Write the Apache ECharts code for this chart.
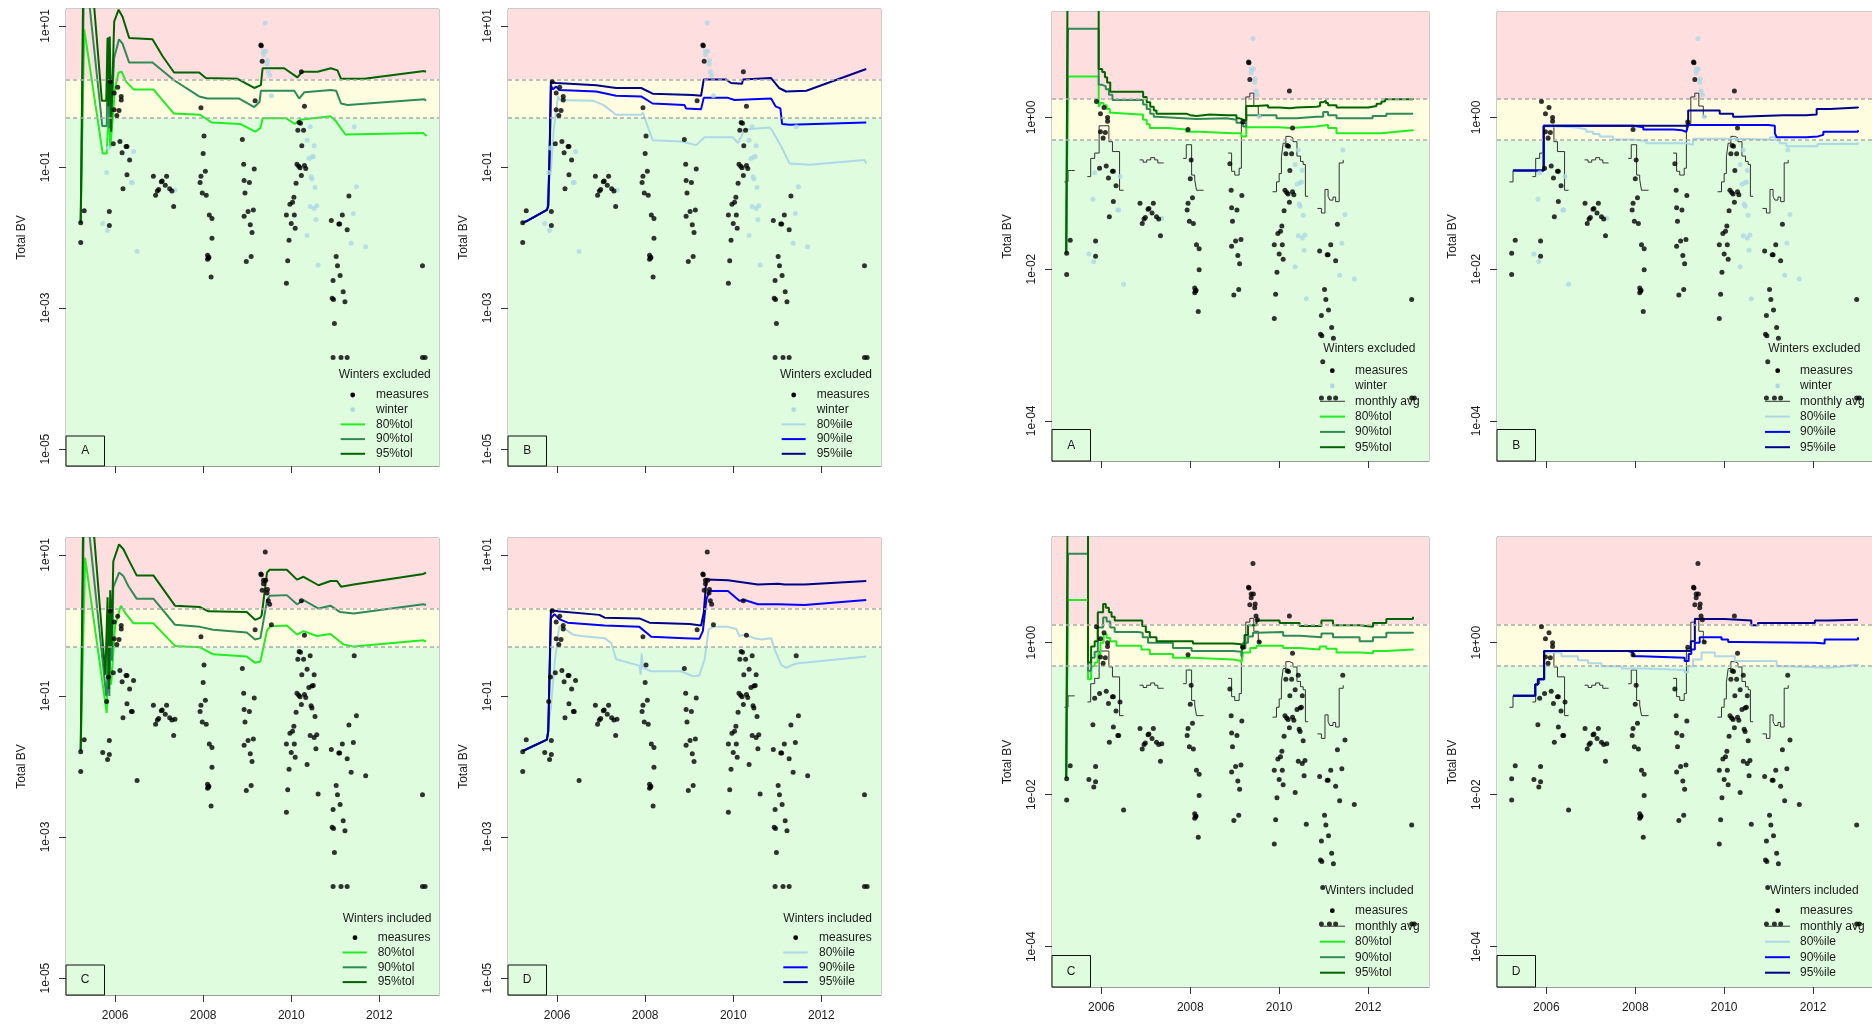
<!DOCTYPE html>
<html>
<head>
<meta charset="utf-8">
<script src="https://cdn.jsdelivr.net/npm/echarts@6/dist/echarts.min.js"></script>
<style>
html,body{margin:0;padding:0;background:#fff;}
#chart{width:1872px;height:1025px;}
</style>
</head>
<body>
<div id="chart"></div>
<script>
// all values are log10(Total BV), x is decimal year
var yearTicks = [2006, 2008, 2010, 2012];
var leftTicks = [-5, -3, -1, 1];
var rightTicks = [-4, -2, 0];
var lowLimit = -0.301;   // 0.5
var highLimit = 0.243;   // 1.75

// measures outside winter
var measures = [
  [2005.22,-1.79],[2005.30,-1.62],[2005.22,-2.07],[2005.87,-1.63],[2005.87,-1.83],[2005.89,0.21],
  [2005.98,0.05],[2006.06,0.13],[2006.14,0.0],[2006.14,-0.05],[2005.98,-0.19],[2006.09,-0.20],[2006.04,-0.27],
  [2005.96,-0.67],[2006.11,-0.64],[2006.16,-0.80],[2006.25,-0.71],[2006.27,-0.71],[2006.33,-0.90],[2006.27,-1.11],[2006.18,-1.31],
  [2006.87,-1.13],[2006.92,-1.40],[2006.96,-1.34],[2006.99,-1.32],[2007.05,-1.21],[2007.07,-1.20],[2007.14,-1.26],
  [2007.17,-1.13],[2007.24,-1.31],[2007.29,-1.34],[2007.33,-1.56],
  [2007.95,-0.16],[2008.02,-0.56],[2008.00,-0.81],[2008.05,-1.06],[2007.93,-1.22],[2007.95,-1.13],[2007.98,-1.37],
  [2008.07,-1.40],[2008.14,-1.68],[2008.20,-1.73],[2008.20,-2.01],[2008.10,-2.25],[2008.12,-2.29],[2008.13,-2.28],
  [2008.10,-2.31],[2008.18,-2.56],
  [2008.89,-0.61],[2008.92,-0.96],[2008.93,-1.19],[2009.05,-1.22],[2009.16,-1.03],[2008.95,-1.37],[2009.02,-1.63],
  [2009.14,-1.61],[2008.93,-1.70],[2009.07,-1.82],[2009.11,-1.93],[2009.09,-2.27],[2008.98,-2.34],[2009.18,-0.06],
  [2009.31,0.73],[2009.32,0.72],[2009.34,0.50],
  [2010.23,0.35],[2010.30,-0.14],[2010.18,-0.37],[2010.21,-0.38],[2010.15,-0.48],[2010.28,-0.48],[2010.24,-0.70],
  [2010.13,-0.96],[2010.17,-0.99],[2010.20,-1.01],[2010.30,-0.98],[2010.33,-1.02],[2010.23,-1.12],[2010.11,-1.23],
  [2010.06,-1.43],[2010.03,-1.50],[2009.97,-1.53],[2009.89,-1.68],[2010.07,-1.68],[2010.00,-1.80],[2010.09,-1.87],
  [2009.95,-2.04],[2009.92,-2.33],[2009.89,-2.65],
  [2010.91,-1.76],[2011.08,-1.81],[2011.10,-1.81],[2011.16,-1.68],[2011.27,-1.89],[2011.31,-1.41],[2011.02,-2.27],
  [2011.05,-2.40],[2011.11,-2.54],[2010.95,-2.61],[2010.93,-2.86],[2010.96,-2.88],[2011.18,-2.77],[2011.22,-2.91],
  [2010.98,-3.22],[2010.95,-3.70],[2011.13,-3.70],[2011.27,-3.70],
  [2012.98,-2.40],[2012.98,-3.70],[2013.04,-3.70]
];

// winter measures
var winter = [
  [2005.72,-1.80],[2005.81,-1.08],[2005.83,-1.90],[2005.85,-0.73],[2006.50,-2.20],[2006.42,-0.78],[2006.37,-1.22],[2006.39,-1.22],
  [2007.36,-1.33],
  [2009.41,1.04],[2009.37,0.64],[2009.42,0.64],[2009.37,0.59],[2009.46,0.51],[2009.45,0.46],[2009.48,0.35],[2009.51,0.30],[2009.55,0.01],
  [2010.43,-0.43],[2010.36,-0.62],[2010.52,-0.70],[2010.40,-0.88],[2010.47,-0.86],[2010.50,-0.85],[2010.45,-1.14],[2010.47,-1.17],
  [2010.54,-1.29],[2010.43,-1.56],[2010.52,-1.59],[2010.58,-1.55],[2010.56,-1.75],[2010.36,-1.97],[2010.61,-2.39],
  [2011.43,-0.43],[2011.48,-1.28],[2011.41,-1.66],[2011.36,-2.08],[2011.69,-2.13]
];

// left A: tolerance, winters excluded
var tolA80 = [[2005.22,-1.79],[2005.30,0.95],[2005.72,-0.81],[2005.81,-0.81],[2005.86,-0.14],[2005.89,-0.73],[2005.91,-0.60],
  [2006.0,0.12],[2006.08,0.34],[2006.15,0.35],[2006.25,0.21],[2006.42,0.10],[2006.87,0.10],[2007.33,-0.24],[2007.93,-0.26],
  [2008.20,-0.37],[2008.84,-0.39],[2009.18,-0.50],[2009.30,-0.45],[2009.35,-0.31],[2009.89,-0.31],[2010.08,-0.39],[2010.20,-0.33],
  [2010.89,-0.28],[2011.00,-0.34],[2011.23,-0.54],[2013.00,-0.52],[2013.07,-0.56]];
var tolA90 = [[2005.22,-1.79],[2005.30,2.0],[2005.71,-0.42],[2005.81,-0.42],[2005.84,0.84],[2005.87,-0.45],[2005.90,0.30],
  [2005.93,-0.10],[2005.98,0.55],[2006.09,0.81],[2006.17,0.75],[2006.32,0.48],[2006.85,0.48],[2007.34,0.23],[2007.91,0.0],
  [2008.10,-0.03],[2008.82,-0.03],[2009.16,-0.15],[2009.28,-0.08],[2009.31,0.08],[2010.07,0.08],[2010.18,-0.03],[2010.30,0.06],
  [2010.90,0.09],[2011.02,0.08],[2011.13,-0.10],[2011.28,-0.12],[2013.02,-0.04],[2013.06,-0.06]];
var tolA95 = [[2005.22,-1.79],[2005.30,3.0],[2005.70,-0.06],[2005.80,-0.06],[2005.83,0.83],[2005.85,-0.14],[2005.88,0.85],
  [2005.91,-0.50],[2005.98,1.06],[2006.08,1.23],[2006.17,1.13],[2006.32,0.83],[2006.85,0.81],[2007.08,0.57],[2007.34,0.34],
  [2007.91,0.34],[2008.06,0.26],[2008.78,0.25],[2009.16,0.12],[2009.31,0.16],[2009.35,0.40],[2009.84,0.40],[2010.14,0.27],
  [2010.25,0.35],[2010.60,0.35],[2010.90,0.40],[2011.05,0.37],[2011.13,0.25],[2011.66,0.25],[2013.02,0.36],[2013.06,0.35]];

// left B: percentiles, winters excluded
var pctB80 = [[2005.22,-1.79],[2005.30,-1.77],[2005.77,-1.61],[2005.80,-1.30],[2005.86,-1.06],[2005.92,-0.50],[2006.02,0.0],
  [2006.07,-0.05],[2006.81,-0.06],[2007.05,-0.12],[2007.34,-0.26],[2007.91,-0.26],[2007.95,-0.23],[2008.02,-0.36],[2008.17,-0.62],
  [2008.82,-0.64],[2009.16,-0.69],[2009.35,-0.58],[2009.99,-0.58],[2010.11,-0.66],[2010.26,-0.47],[2010.83,-0.44],[2010.90,-0.50],
  [2011.09,-0.71],[2011.28,-0.95],[2011.73,-0.97],[2012.98,-0.90],[2013.02,-0.95]];
var pctB90 = [[2005.22,-1.79],[2005.30,-1.77],[2005.77,-1.61],[2005.80,-1.55],[2005.84,-0.60],[2005.86,0.16],[2005.90,0.10],
  [2005.98,0.14],[2006.05,0.09],[2006.89,0.07],[2007.34,0.01],[2007.91,0.0],[2008.17,-0.10],[2008.89,-0.12],[2008.93,-0.17],
  [2009.27,-0.18],[2009.33,-0.02],[2009.88,-0.02],[2010.03,-0.05],[2010.86,-0.03],[2010.96,-0.14],[2011.07,-0.17],[2011.11,-0.39],
  [2011.28,-0.40],[2013.02,-0.37]];
var pctB95 = [[2005.22,-1.79],[2005.30,-1.77],[2005.77,-1.61],[2005.80,-1.55],[2005.84,-0.50],[2005.86,0.20],[2005.98,0.19],
  [2006.89,0.16],[2007.34,0.12],[2007.91,0.12],[2008.17,0.04],[2009.08,0.02],[2009.27,0.01],[2009.33,0.24],[2009.84,0.24],
  [2009.95,0.19],[2010.20,0.18],[2010.22,0.24],[2010.26,0.23],[2010.86,0.26],[2011.04,0.12],[2011.20,0.07],[2011.66,0.08],[2013.02,0.39]];

// left C: tolerance, winters included
var tolC80 = [[2005.22,-1.78],[2005.32,0.96],[2005.81,-1.24],[2005.85,-0.20],[2005.91,-0.84],[2006.0,-0.01],[2006.13,0.28],
  [2006.23,0.18],[2006.42,0.03],[2006.87,0.03],[2007.36,-0.29],[2007.93,-0.31],[2008.23,-0.41],[2008.99,-0.44],[2009.18,-0.53],
  [2009.30,-0.51],[2009.45,-0.07],[2009.53,-0.01],[2009.90,0.0],[2010.13,-0.13],[2010.28,-0.08],[2010.58,-0.15],[2010.89,-0.12],
  [2011.19,-0.27],[2011.42,-0.30],[2013.0,-0.21],[2013.06,-0.23]];
var tolC90 = [[2005.22,-1.78],[2005.30,2.0],[2005.80,-1.0],[2005.82,-0.95],[2005.84,0.20],[2005.87,-1.0],[2005.90,0.25],
  [2005.93,-0.50],[2005.96,0.54],[2006.09,0.75],[2006.19,0.70],[2006.30,0.56],[2006.49,0.38],[2006.87,0.38],[2007.36,0.01],
  [2007.93,-0.02],[2008.23,-0.06],[2008.99,-0.10],[2009.18,-0.20],[2009.30,-0.18],[2009.45,0.35],[2009.51,0.42],[2009.90,0.43],
  [2010.13,0.30],[2010.28,0.36],[2010.62,0.24],[2010.89,0.28],[2011.11,0.19],[2011.42,0.17],[2013.0,0.30],[2013.06,0.29]];
var tolC95 = [[2005.22,-1.78],[2005.30,3.0],[2005.78,-0.70],[2005.81,-0.70],[2005.83,0.40],[2005.86,-0.90],[2005.89,0.50],
  [2005.92,-0.30],[2005.96,0.91],[2006.09,1.15],[2006.19,1.08],[2006.30,0.94],[2006.49,0.71],[2006.87,0.71],[2007.36,0.28],
  [2007.93,0.26],[2008.12,0.20],[2008.99,0.19],[2009.18,0.08],[2009.30,0.11],[2009.33,0.15],[2009.45,0.75],[2009.51,0.79],
  [2009.90,0.79],[2010.13,0.65],[2010.28,0.69],[2010.62,0.57],[2010.89,0.63],[2011.04,0.63],[2011.13,0.55],[2011.42,0.58],
  [2013.0,0.73],[2013.06,0.75]];

// left D: percentiles, winters included
var pctD80 = [[2005.22,-1.78],[2005.77,-1.62],[2005.80,-1.40],[2005.86,-1.17],[2005.95,-0.50],[2006.05,-0.01],[2006.12,-0.02],
  [2006.36,-0.13],[2006.55,-0.15],[2007.08,-0.18],[2007.23,-0.25],[2007.34,-0.48],[2007.87,-0.57],[2007.90,-0.70],[2007.92,-0.40],
  [2007.95,-0.60],[2008.14,-0.65],[2008.82,-0.65],[2009.08,-0.72],[2009.23,-0.71],[2009.35,-0.48],[2009.44,-0.06],[2009.54,-0.02],
  [2009.88,-0.02],[2010.07,-0.05],[2010.14,-0.15],[2010.26,-0.13],[2010.48,-0.18],[2010.64,-0.20],[2010.86,-0.18],[2010.94,-0.34],
  [2011.09,-0.56],[2011.20,-0.60],[2011.43,-0.54],[2013.02,-0.44]];
var pctD90 = [[2005.22,-1.78],[2005.77,-1.62],[2005.80,-1.50],[2005.86,0.10],[2005.94,0.16],[2006.05,0.09],[2006.24,0.04],
  [2007.08,0.0],[2007.87,-0.02],[2008.14,-0.16],[2008.89,-0.18],[2009.23,-0.19],[2009.31,-0.08],[2009.39,0.37],[2009.46,0.49],
  [2009.88,0.49],[2010.14,0.35],[2010.26,0.36],[2010.56,0.30],[2011.02,0.30],[2011.62,0.29],[2013.02,0.36]];
var pctD95 = [[2005.22,-1.78],[2005.77,-1.62],[2005.80,-1.50],[2005.86,0.22],[2006.02,0.20],[2006.96,0.15],[2007.08,0.11],
  [2007.87,0.10],[2008.10,0.04],[2009.01,0.02],[2009.27,0.0],[2009.33,0.18],[2009.39,0.65],[2009.88,0.64],[2010.56,0.58],
  [2011.02,0.59],[2011.17,0.58],[2011.62,0.58],[2013.02,0.63]];

// right panels: monthly steps
var tolRA80 = [[2005.21,-1.79],[2005.25,0.54],[2005.94,0.14],[2005.98,0.19],[2006.05,0.16],[2006.12,0.11],[2006.19,0.06],
  [2006.25,0.04],[2006.86,0.04],[2006.94,-0.03],[2007.02,-0.09],[2007.09,-0.14],[2007.50,-0.16],[2007.91,-0.19],[2008.21,-0.21],
  [2008.96,-0.21],[2009.15,-0.25],[2009.26,-0.13],[2009.64,-0.13],[2010.0,-0.14],[2010.24,-0.12],[2010.84,-0.11],[2010.95,-0.10],
  [2011.10,-0.14],[2011.29,-0.21],[2011.89,-0.21],[2012.30,-0.19],[2012.64,-0.17],[2013.01,-0.18]];
var tolRA90 = [[2005.21,-1.79],[2005.25,1.17],[2005.94,0.43],[2006.02,0.41],[2006.10,0.37],[2006.17,0.30],[2006.25,0.23],
  [2006.86,0.23],[2006.94,0.17],[2007.02,0.11],[2007.10,0.05],[2007.18,0.01],[2007.24,-0.01],[2007.84,-0.02],[2008.14,-0.01],
  [2008.81,-0.03],[2009.04,-0.07],[2009.19,-0.12],[2009.26,0.03],[2009.94,-0.01],[2010.39,0.01],[2010.84,0.01],[2010.99,0.07],
  [2011.10,0.03],[2011.29,-0.01],[2011.89,-0.01],[2012.10,0.02],[2012.41,0.05],[2013.01,0.05]];
var tolRA95 = [[2005.21,-1.79],[2005.25,3.0],[2005.94,0.64],[2006.02,0.60],[2006.08,0.53],[2006.13,0.46],[2006.20,0.34],
  [2006.86,0.34],[2006.94,0.27],[2007.02,0.20],[2007.10,0.14],[2007.18,0.09],[2007.24,0.05],[2007.91,0.03],[2008.0,0.02],
  [2008.14,0.04],[2008.44,0.03],[2008.81,0.03],[2009.04,-0.01],[2009.10,-0.03],[2009.19,-0.04],[2009.26,0.15],[2009.49,0.16],
  [2009.75,0.13],[2010.01,0.12],[2010.24,0.13],[2010.39,0.14],[2010.84,0.15],[2010.92,0.20],[2010.99,0.22],[2011.05,0.19],
  [2011.10,0.16],[2011.29,0.13],[2011.89,0.13],[2012.0,0.15],[2012.19,0.18],[2012.30,0.21],[2012.38,0.24],[2013.01,0.25]];

var pctRB80 = [[2005.25,-0.70],[2005.94,-0.12],[2006.30,-0.13],[2006.60,-0.14],[2006.75,-0.16],[2006.90,-0.19],[2007.05,-0.22],
  [2007.20,-0.25],[2007.50,-0.29],[2007.95,-0.31],[2008.25,-0.34],[2009.15,-0.36],[2009.30,-0.28],[2010.05,-0.28],[2010.20,-0.29],
  [2011.03,-0.26],[2011.15,-0.30],[2011.25,-0.34],[2011.40,-0.38],[2011.85,-0.38],[2012.10,-0.35],[2013.01,-0.33]];
var pctRB90 = [[2005.25,-0.70],[2005.94,-0.11],[2007.95,-0.13],[2008.18,-0.16],[2008.85,-0.17],[2009.05,-0.19],[2009.15,-0.20],
  [2009.19,-0.10],[2010.99,-0.11],[2011.14,-0.21],[2011.18,-0.26],[2011.85,-0.25],[2012.11,-0.23],[2012.23,-0.19],[2013.01,-0.17]];
var pctRB95 = [[2005.25,-0.70],[2005.94,-0.11],[2009.19,0.09],[2009.75,0.09],[2009.90,0.05],[2010.20,0.01],[2010.35,0.03],
  [2011.33,0.03],[2011.85,0.04],[2012.08,0.11],[2012.38,0.13],[2013.01,0.14]];

var tolRC80 = [[2005.21,-1.78],[2005.25,0.56],[2005.70,-0.48],[2005.77,-0.31],[2005.85,-0.26],[2005.92,-0.15],[2005.98,0.0],
  [2006.05,0.11],[2006.12,0.06],[2006.20,0.02],[2006.34,-0.04],[2006.79,-0.04],[2006.90,-0.09],[2007.09,-0.15],[2007.61,-0.20],
  [2008.03,-0.22],[2008.96,-0.24],[2009.15,-0.27],[2009.19,-0.13],[2009.35,-0.07],[2009.49,-0.04],[2010.09,-0.07],[2010.46,-0.09],
  [2010.91,-0.05],[2011.06,-0.08],[2011.29,-0.13],[2011.81,-0.14],[2012.11,-0.11],[2012.41,-0.09],[2013.01,-0.08]];
var tolRC90 = [[2005.21,-1.78],[2005.25,1.17],[2005.70,-0.37],[2005.77,-0.20],[2005.85,-0.12],[2005.92,0.20],[2006.04,0.33],
  [2006.12,0.28],[2006.20,0.20],[2006.30,0.14],[2006.83,0.13],[2006.93,0.07],[2007.05,0.0],[2007.61,-0.07],[2008.03,-0.11],
  [2008.96,-0.12],[2009.15,-0.18],[2009.19,0.0],[2009.30,0.08],[2009.41,0.13],[2009.49,0.14],[2010.09,0.09],[2010.46,0.07],
  [2010.95,0.12],[2011.21,0.07],[2011.81,0.02],[2012.11,0.07],[2012.41,0.13],[2013.01,0.14]];
var tolRC95 = [[2005.21,-1.78],[2005.25,3.0],[2005.70,-0.26],[2005.77,-0.05],[2005.85,0.02],[2005.92,0.40],[2006.04,0.51],
  [2006.10,0.46],[2006.17,0.40],[2006.23,0.34],[2006.30,0.29],[2006.83,0.29],[2006.92,0.22],[2007.00,0.14],[2007.09,0.07],
  [2007.24,0.02],[2007.61,0.02],[2008.06,-0.01],[2008.96,-0.02],[2009.15,-0.07],[2009.22,0.10],[2009.30,0.23],[2009.49,0.29],
  [2010.01,0.26],[2010.46,0.22],[2010.95,0.29],[2011.21,0.23],[2011.81,0.21],[2012.11,0.26],[2012.41,0.31],[2013.01,0.34]];

var pctRD80 = [[2005.25,-0.70],[2005.75,-0.55],[2005.81,-0.48],[2005.95,-0.13],[2006.34,-0.18],[2006.71,-0.23],[2006.94,-0.27],
  [2007.24,-0.31],[2007.69,-0.34],[2008.21,-0.36],[2009.11,-0.39],[2009.19,-0.31],[2009.30,-0.22],[2009.49,-0.13],[2009.79,-0.18],
  [2010.24,-0.24],[2011.06,-0.24],[2011.18,-0.31],[2011.44,-0.33],[2012.34,-0.31],[2012.71,-0.29],[2013.01,-0.28]];
var pctRD90 = [[2005.25,-0.70],[2005.75,-0.55],[2005.81,-0.48],[2005.95,-0.11],[2007.84,-0.13],[2007.95,-0.18],[2008.14,-0.20],
  [2009.11,-0.24],[2009.20,-0.15],[2009.26,-0.09],[2009.34,0.0],[2009.45,0.07],[2009.94,0.04],[2010.09,0.01],[2010.28,0.0],
  [2012.04,-0.01],[2012.26,0.04],[2013.01,0.07]];
var pctRD95 = [[2005.25,-0.70],[2005.75,-0.55],[2005.81,-0.48],[2005.95,-0.11],[2009.15,-0.11],[2009.25,0.02],[2009.34,0.31],
  [2010.01,0.29],[2010.61,0.23],[2010.76,0.26],[2011.89,0.26],[2012.04,0.29],[2012.34,0.30],[2013.01,0.30]];

// monthly average (gaps = null)
var monthlyAvg = [
  [2005.17,-0.85],[2005.25,-0.70],[2005.33,-0.70],[2005.40,null],
  [2005.685,-0.78],[2005.76,-0.54],[2005.85,-0.47],[2005.95,-0.11],[2006.17,-0.32],[2006.25,-0.45],[2006.41,-0.96],[2006.50,null],
  [2006.86,-0.56],[2006.94,-0.59],[2007.02,-0.56],[2007.11,-0.53],[2007.20,-0.56],[2007.27,-0.60],[2007.35,-0.60],[2007.40,null],
  [2007.84,-0.54],[2007.91,-0.36],[2008.03,-0.76],[2008.10,-0.82],[2008.14,-0.96],[2008.20,-0.96],[2008.30,null],
  [2008.85,-0.47],[2008.93,-0.71],[2009.00,-0.76],[2009.10,-0.67],[2009.15,-0.08],[2009.25,0.27],[2009.34,0.32],[2009.43,0.15],[2009.53,0.01],[2009.60,null],
  [2009.85,-0.98],[2009.94,-0.85],[2010.00,-0.74],[2010.05,-0.52],[2010.09,-0.34],[2010.15,-0.25],[2010.24,-0.27],[2010.31,-0.32],
  [2010.40,-0.51],[2010.48,-0.58],[2010.54,-0.62],[2010.59,-1.04],[2010.65,null],
  [2010.86,-1.20],[2010.95,-1.26],[2011.03,-0.95],[2011.10,-1.04],[2011.14,-1.09],[2011.21,-1.05],[2011.27,-1.11],[2011.35,-0.60],[2011.44,-0.56]
];

var FONT = '"Liberation Sans", Arial, sans-serif';
var TXT = '#1a1a1a';
var G80 = '#1fef1f', G90 = '#2e8b57', G95 = '#006400';
var B80 = '#add8e6', B90 = '#0000ff', B95 = '#00008b';
var WINTER = '#add8e6';

var leftScale = {xmin: 2004.886, xmax: 2013.355, ymin: -5.24, ymax: 1.24, ticks: leftTicks};
var rightScale = {xmin: 2004.89, xmax: 2013.37, ymin: -4.53, ymax: 1.39, ticks: rightTicks};

var tolRows = [['line', G80, 2, '80%tol'], ['line', G90, 2, '90%tol'], ['line', G95, 2, '95%tol']];
var pctRows = [['line', B80, 2, '80%ile'], ['line', B90, 2, '90%ile'], ['line', B95, 2, '95%ile']];
var ptRow = ['pt', '#000', 0, 'measures'];
var winRow = ['pt', WINTER, 0, 'winter'];
var avgRow = ['line', '#333', 1, 'monthly avg'];

var panels = [
  {sc: leftScale, left: 66, top: 9, w: 373, h: 457, xlab: false, excl: true, step: false, monthly: false, letter: 'A',
   lines: [[tolA80, G80], [tolA90, G90], [tolA95, G95]],
   leg: {title: 'Winters excluded', tx: 338.7, ty: 375, y0: 395, dy: 14.7, px: 352.7, lx1: 340.7, lx2: 365, textX: 376,
         rows: [ptRow, winRow].concat(tolRows)}},
  {sc: leftScale, left: 508, top: 9, w: 373, h: 457, xlab: false, excl: true, step: false, monthly: false, letter: 'B',
   lines: [[pctB80, B80], [pctB90, B90], [pctB95, B95]],
   leg: {title: 'Winters excluded', tx: 780, ty: 375, y0: 395, dy: 14.7, px: 793.7, lx1: 781.7, lx2: 805.7, textX: 816.7,
         rows: [ptRow, winRow].concat(pctRows)}},
  {sc: leftScale, left: 66, top: 538, w: 373, h: 457, xlab: true, excl: false, step: false, monthly: false, letter: 'C',
   lines: [[tolC80, G80], [tolC90, G90], [tolC95, G95]],
   leg: {title: 'Winters included', tx: 342.7, ty: 919, y0: 937.7, dy: 14.8, px: 355, lx1: 342.7, lx2: 366.7, textX: 377.7,
         rows: [ptRow].concat(tolRows)}},
  {sc: leftScale, left: 508, top: 538, w: 373, h: 457, xlab: true, excl: false, step: false, monthly: false, letter: 'D',
   lines: [[pctD80, B80], [pctD90, B90], [pctD95, B95]],
   leg: {title: 'Winters included', tx: 783.3, ty: 919, y0: 937.7, dy: 14.8, px: 795.7, lx1: 783.3, lx2: 807.7, textX: 819,
         rows: [ptRow].concat(pctRows)}},
  {sc: rightScale, left: 1052, top: 12, w: 377, h: 449, xlab: false, excl: true, step: true, monthly: true, letter: 'A',
   lines: [[tolRA80, G80], [tolRA90, G90], [tolRA95, G95]],
   leg: {title: 'Winters excluded', tx: 1323.3, ty: 348.3, y0: 370.7, dy: 15.3, px: 1332.3, lx1: 1320, lx2: 1345, textX: 1355,
         rows: [ptRow, winRow, avgRow].concat(tolRows)}},
  {sc: rightScale, left: 1497, top: 12, w: 377, h: 449, xlab: false, excl: true, step: true, monthly: true, letter: 'B',
   lines: [[pctRB80, B80], [pctRB90, B90], [pctRB95, B95]],
   leg: {title: 'Winters excluded', tx: 1768.3, ty: 348.3, y0: 370.7, dy: 15.3, px: 1777.7, lx1: 1765, lx2: 1790, textX: 1800,
         rows: [ptRow, winRow, avgRow].concat(pctRows)}},
  {sc: rightScale, left: 1052, top: 537, w: 377, h: 450, xlab: true, excl: false, step: true, monthly: true, letter: 'C',
   lines: [[tolRC80, G80], [tolRC90, G90], [tolRC95, G95]],
   leg: {title: 'Winters included', tx: 1325, ty: 890.7, y0: 910.7, dy: 15.5, px: 1332.3, lx1: 1320, lx2: 1345, textX: 1355,
         rows: [ptRow, avgRow].concat(tolRows)}},
  {sc: rightScale, left: 1497, top: 537, w: 377, h: 450, xlab: true, excl: false, step: true, monthly: true, letter: 'D',
   lines: [[pctRD80, B80], [pctRD90, B90], [pctRD95, B95]],
   leg: {title: 'Winters included', tx: 1770, ty: 890.7, y0: 910.7, dy: 15.5, px: 1777.7, lx1: 1765, lx2: 1790, textX: 1800,
         rows: [ptRow, avgRow].concat(pctRows)}}
];

function expLabel(v) {
  var a = Math.abs(v);
  return '1e' + (v < 0 ? '-' : '+') + (a < 10 ? '0' : '') + a;
}

var grids = [], xAxes = [], yAxes = [], series = [], graphics = [];

panels.forEach(function (p, i) {
  var sc = p.sc;
  grids.push({left: p.left, top: p.top, width: p.w, height: p.h, containLabel: false, outerBoundsMode: 'none',
    show: true, borderColor: '#9a9a9a', borderWidth: 1, backgroundColor: 'transparent'});
  xAxes.push({type: 'value', gridIndex: i, min: sc.xmin, max: sc.xmax,
    axisLine: {show: true, onZero: false, lineStyle: {color: '#9a9a9a'}},
    axisTick: {show: true, length: 7, customValues: yearTicks, lineStyle: {color: '#333'}},
    axisLabel: {show: p.xlab, customValues: yearTicks, margin: 15, fontSize: 12, color: TXT, fontFamily: FONT,
      formatter: function (v) { return String(Math.round(v)); }},
    splitLine: {show: false}});
  yAxes.push({type: 'value', gridIndex: i, min: sc.ymin, max: sc.ymax,
    name: 'Total BV', nameLocation: 'middle', nameGap: 38, nameRotate: 90,
    nameTextStyle: {fontSize: 12, color: TXT, fontFamily: FONT},
    axisLine: {show: true, onZero: false, lineStyle: {color: '#9a9a9a'}},
    axisTick: {show: true, length: 7, customValues: sc.ticks, lineStyle: {color: '#333'}},
    axisLabel: {show: true, customValues: sc.ticks, rotate: 90, margin: 14, fontSize: 12, color: TXT, fontFamily: FONT,
      formatter: function (v) { return expLabel(Math.round(v)); }},
    splitLine: {show: false}});

  // background bands and limit lines
  series.push({type: 'line', xAxisIndex: i, yAxisIndex: i, data: [], silent: true, z: 1,
    markArea: {silent: true, data: [
      [{yAxis: sc.ymin, itemStyle: {color: '#dffcdf', opacity: 1}}, {yAxis: lowLimit}],
      [{yAxis: lowLimit, itemStyle: {color: '#fefde0', opacity: 1}}, {yAxis: highLimit}],
      [{yAxis: highLimit, itemStyle: {color: '#fedede', opacity: 1}}, {yAxis: sc.ymax}]
    ]},
    markLine: {silent: true, symbol: 'none', label: {show: false}, animation: false,
      lineStyle: {color: '#aaaaaa', type: [4, 3], width: 1.5},
      data: [{yAxis: lowLimit}, {yAxis: highLimit}]}
  });

  if (p.monthly) {
    series.push({type: 'line', xAxisIndex: i, yAxisIndex: i, data: monthlyAvg, step: 'end', symbol: 'none',
      connectNulls: false, silent: true, z: 3, lineStyle: {color: '#333', width: 1}});
  }
  p.lines.forEach(function (ln) {
    series.push({type: 'line', xAxisIndex: i, yAxisIndex: i, data: ln[0], step: p.step ? 'end' : false,
      symbol: 'none', silent: true, z: 4, lineStyle: {color: ln[1], width: 2}});
  });
  series.push({type: 'scatter', xAxisIndex: i, yAxisIndex: i, data: winter, symbolSize: 5, silent: true, z: 5,
    itemStyle: {color: p.excl ? WINTER : '#000'}});
  series.push({type: 'scatter', xAxisIndex: i, yAxisIndex: i, data: measures, symbolSize: 5, silent: true, z: 6,
    itemStyle: {color: '#000'}});

  // legend (R style, no box)
  var lg = p.leg;
  graphics.push({type: 'text', x: lg.tx, y: lg.ty, z: 100, silent: true,
    style: {text: lg.title, fill: TXT, font: '12px ' + FONT, align: 'left', verticalAlign: 'middle'}});
  lg.rows.forEach(function (r, k) {
    var yy = lg.y0 + k * lg.dy;
    if (r[0] === 'pt') {
      graphics.push({type: 'circle', z: 100, silent: true, shape: {cx: lg.px, cy: yy, r: 2.4}, style: {fill: r[1]}});
    } else {
      graphics.push({type: 'line', z: 100, silent: true, shape: {x1: lg.lx1, y1: yy, x2: lg.lx2, y2: yy},
        style: {stroke: r[1], lineWidth: r[2]}});
    }
    graphics.push({type: 'text', x: lg.textX, y: yy, z: 100, silent: true,
      style: {text: r[3], fill: TXT, font: '12px ' + FONT, align: 'left', verticalAlign: 'middle'}});
  });

  // panel letter box
  var bh = p.h > 450 ? 30 : 31.5;
  graphics.push({type: 'rect', z: 100, silent: true,
    shape: {x: p.left, y: p.top + p.h - bh, width: 38.5, height: bh},
    style: {fill: 'none', stroke: '#111', lineWidth: 1}});
  graphics.push({type: 'text', x: p.left + 19.2, y: p.top + p.h - bh / 2, z: 100, silent: true,
    style: {text: p.letter, fill: TXT, font: '12px ' + FONT, align: 'center', verticalAlign: 'middle'}});
});

var chart = echarts.init(document.getElementById('chart'), null, {renderer: 'canvas'});
chart.setOption({
  animation: false,
  backgroundColor: '#ffffff',
  textStyle: {fontFamily: FONT},
  grid: grids,
  xAxis: xAxes,
  yAxis: yAxes,
  series: series,
  graphic: graphics
});
</script>
</body>
</html>
